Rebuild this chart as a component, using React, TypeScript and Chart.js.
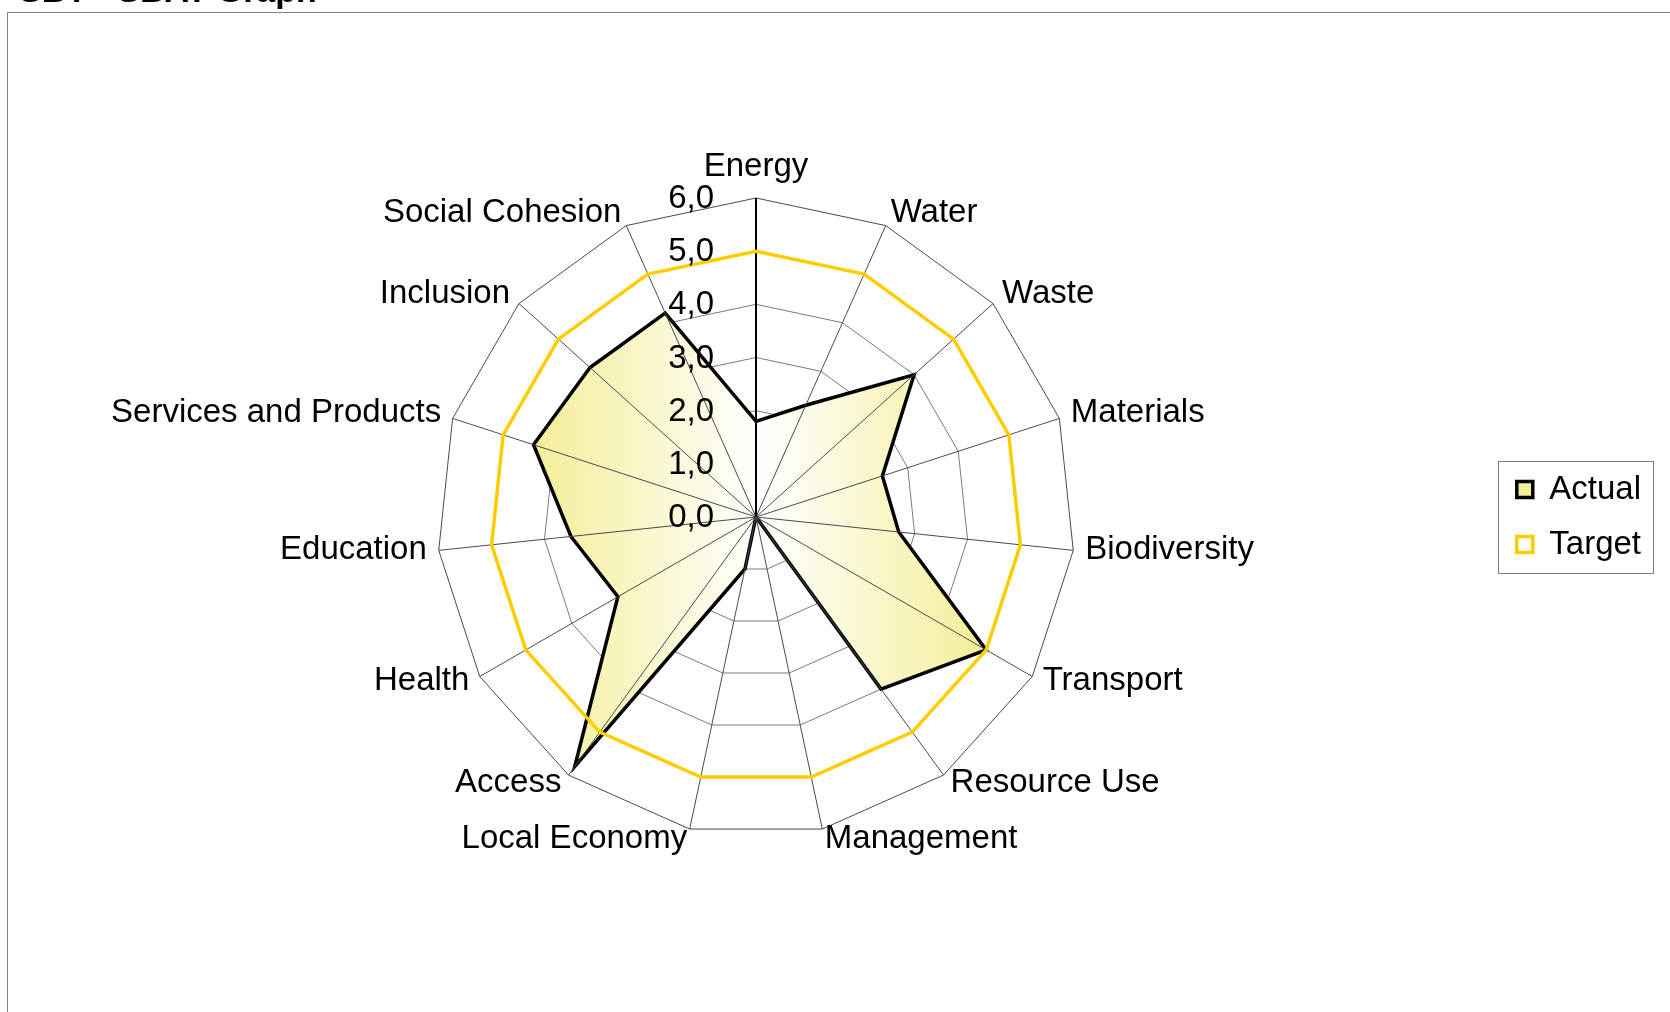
import React, { useEffect, useRef } from 'react';
import { Chart, registerables } from 'chart.js';

Chart.register(...registerables);

// ---------- data ----------
const categories = [
  'Energy',
  'Water',
  'Waste',
  'Materials',
  'Biodiversity',
  'Transport',
  'Resource Use',
  'Management',
  'Local Economy',
  'Access',
  'Health',
  'Education',
  'Services and Products',
  'Inclusion',
  'Social Cohesion',
];

const actualValues = [1.8, 2.3, 4.0, 2.5, 2.7, 5.0, 4.0, 0.0, 1.0, 5.8, 3.0, 3.5, 4.4, 4.2, 4.2];
const targetValues = [5.0, 5.0, 5.0, 5.0, 5.0, 5.0, 5.0, 5.0, 5.0, 5.0, 5.0, 5.0, 5.0, 5.0, 5.0];

const seriesNames = ['Actual', 'Target'];
const axisMin = 0;
const axisMax = 6;
const axisStep = 1;
const titleText = 'SBT - SBAT Graph';

// ---------- styles ----------
const FAMILY = "'Liberation Sans', Arial, Helvetica, sans-serif";
const FONT_SIZE = 33;
const GOLD = '#FFCC00';
const FILL_EDGE = 'rgb(244, 238, 152)';

const formatTick = (v: number) => v.toFixed(1).replace('.', ',');

const spokesPlugin = {
  id: 'spokesOverFill',
  afterDatasetDraw(chart: any, args: any) {
    if (args.index !== 0) return;
    const s = chart.scales.r;
    const ctx = chart.ctx;
    ctx.save();
    for (let i = categories.length - 1; i >= 0; i--) {
      const p = s.getPointPositionForValue(i, s.max);
      ctx.beginPath();
      ctx.moveTo(s.xCenter, s.yCenter);
      ctx.lineTo(p.x, p.y);
      ctx.strokeStyle = i === 0 ? '#000000' : '#4a4a4a';
      ctx.lineWidth = i === 0 ? 2 : 1;
      ctx.stroke();
    }
    ctx.restore();
  },
};

const textPlugin = {
  id: 'radarTexts',
  afterDatasetsDraw(chart: any) {
    const s = chart.scales.r;
    const ctx = chart.ctx;
    ctx.save();
    ctx.font = `${FONT_SIZE}px ${FAMILY}`;
    ctx.fillStyle = '#000000';
    // category labels
    categories.forEach((label, i) => {
      const a = s.getIndexAngle(i);
      const sn = Math.sin(a);
      const cs = Math.cos(a);
      const vertical = Math.abs(sn) < 1e-6;
      const p = s.getPointPosition(i, s.drawingArea + (vertical ? 15 : 12));
      ctx.textAlign = vertical ? 'center' : sn > 0 ? 'left' : 'right';
      ctx.textBaseline = vertical ? (cs > 0 ? 'bottom' : 'top') : 'middle';
      ctx.fillText(label, p.x, vertical ? p.y : p.y - 1.5);
    });
    // value axis labels, left of the first spoke
    ctx.textAlign = 'right';
    ctx.textBaseline = 'middle';
    s.ticks.forEach((t: any) => {
      const d = s.getDistanceFromCenterForValue(t.value);
      ctx.fillText(t.label, s.xCenter - 42, s.yCenter - d + 1);
    });
    ctx.restore();
  },
};

const legendFramePlugin = {
  id: 'legendFrame',
  afterDraw(chart: any) {
    const lg = chart.legend;
    if (!lg || !lg.legendHitBoxes || !lg.legendHitBoxes.length) return;
    const hb = lg.legendHitBoxes;
    const left = Math.min(...hb.map((h: any) => h.left)) - 19;
    const right = Math.max(...hb.map((h: any) => h.left + h.width)) + 12;
    const top = Math.min(...hb.map((h: any) => h.top)) - 12;
    const bottom = Math.max(...hb.map((h: any) => h.top + h.height)) + 12;
    const ctx = chart.ctx;
    ctx.save();
    ctx.strokeStyle = '#7f7f7f';
    ctx.lineWidth = 1;
    ctx.strokeRect(Math.round(left) + 0.5, Math.round(top) + 0.5, Math.round(right - left), Math.round(bottom - top));
    ctx.restore();
  },
};

export default function App() {
  const canvasRef = useRef<HTMLCanvasElement | null>(null);

  useEffect(() => {
    if (!canvasRef.current) return;
    Chart.defaults.color = '#000000';
    Chart.defaults.font.family = FAMILY;

    const gradientFill = (c: any) => {
      const chart = c.chart;
      const s = chart.scales && chart.scales.r;
      if (!s || !chart.chartArea) return FILL_EDGE;
      const xs = actualValues.map((v, i) => s.getPointPositionForValue(i, v).x);
      const minX = Math.min(...xs);
      const maxX = Math.max(...xs);
      if (!isFinite(minX) || !isFinite(maxX) || maxX <= minX) return FILL_EDGE;
      const g = chart.ctx.createLinearGradient(minX, 0, maxX, 0);
      g.addColorStop(0, FILL_EDGE);
      g.addColorStop(0.5, '#ffffff');
      g.addColorStop(1, FILL_EDGE);
      return g;
    };

    const chart = new Chart(canvasRef.current, {
      type: 'radar',
      data: {
        labels: categories,
        datasets: [
          {
            label: seriesNames[0],
            data: actualValues,
            borderColor: '#000000',
            borderWidth: 3.5,
            backgroundColor: gradientFill,
            fill: 'origin',
            pointRadius: 0,
            pointHoverRadius: 0,
            tension: 0,
            order: 2,
          },
          {
            label: seriesNames[1],
            data: targetValues,
            borderColor: GOLD,
            borderWidth: 3.5,
            backgroundColor: '#ffffff',
            fill: false,
            pointRadius: 0,
            pointHoverRadius: 0,
            tension: 0,
            order: 1,
          },
        ],
      },
      options: {
        responsive: false,
        animation: false,
        layout: { padding: { left: 19, right: 19, top: 0, bottom: 176 } },
        scales: {
          r: {
            min: axisMin,
            max: axisMax,
            beginAtZero: true,
            ticks: {
              stepSize: axisStep,
              display: false,
              callback: (v: any) => formatTick(Number(v)),
            },
            pointLabels: { display: false },
            angleLines: { display: false },
            grid: {
              circular: false,
              color: (c: any) => (c.tick && c.tick.value === axisMax ? '#4a4a4a' : '#7a7a7a'),
              lineWidth: 1,
            },
          },
        },
        plugins: {
          title: {
            display: true,
            text: titleText,
            align: 'start',
            color: '#000000',
            font: { size: 34, weight: 'bold', family: FAMILY },
            padding: { top: 0, bottom: 185.2 },
          },
          legend: {
            display: true,
            position: 'right',
            fullSize: false,
            align: 'center',
            labels: {
              boxWidth: 16,
              boxHeight: 16,
              padding: 22,
              color: '#000000',
              font: { size: FONT_SIZE, family: FAMILY },
              sort: (a: any, b: any) => a.datasetIndex - b.datasetIndex,
            },
          },
          tooltip: { enabled: false },
        },
      },
      plugins: [spokesPlugin, textPlugin, legendFramePlugin],
    } as any);

    return () => chart.destroy();
  }, []);

  return (
    <div
      style={{
        position: 'fixed',
        left: 0,
        top: 0,
        width: 1670,
        height: 1012,
        overflow: 'hidden',
        background: '#ffffff',
      }}
    >
      <div
        style={{
          position: 'absolute',
          left: 7,
          top: 12,
          width: 1800,
          height: 1200,
          border: '1px solid #808080',
          boxSizing: 'border-box',
        }}
      />
      <canvas
        ref={canvasRef}
        width={1670}
        height={1040}
        style={{ position: 'absolute', left: 0, top: -28, width: 1670, height: 1040, display: 'block' }}
      />
    </div>
  );
}
